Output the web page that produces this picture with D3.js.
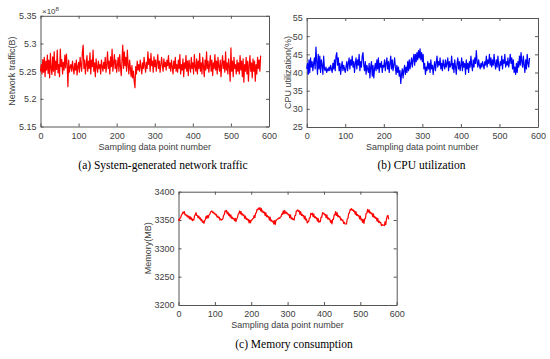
<!DOCTYPE html>
<html>
<head>
<meta charset="utf-8">
<script src="https://cdn.jsdelivr.net/npm/d3@7"></script>
<style>
  body { margin: 0; background: #fff; }
  svg text { font-family: "Liberation Sans", Arial, sans-serif; }
  .tick text { fill: #404040; font-size: 9px; }
  .tick line, .domain { stroke: #555; }
  .axis-label { fill: #404040; font-size: 9px; }
  .caption { font-family: "Liberation Serif", "Times New Roman", serif !important; font-size: 11.5px; fill: #000; }
</style>
</head>
<body>
<div id="chart"></div>
<script>
// sampled every 2nd data point (0, 2, ... 578)
var samples = d3.range(0, 580, 2);

var xTicks = [0, 100, 200, 300, 400, 500, 600];
var trafficTicks = [5.15, 5.2, 5.25, 5.3, 5.35];
var cpuTicks = [25, 30, 35, 40, 45, 50, 55];
var memTicks = [3200, 3250, 3300, 3350, 3400];

// network traffic, x10^8 B
var traffic = [
  5.250,5.262,5.245,5.271,5.248,5.275,5.240,5.268,5.252,5.279,
  5.246,5.270,5.238,5.282,5.255,5.244,5.276,5.250,5.285,5.242,
  5.268,5.253,5.288,5.247,5.262,5.240,5.290,5.258,5.271,5.245,
  5.266,5.252,5.279,5.256,5.281,5.262,5.222,5.270,5.248,5.258,
  5.262,5.250,5.268,5.255,5.245,5.264,5.252,5.270,5.243,5.258,
  5.266,5.248,5.275,5.260,5.250,5.285,5.297,5.255,5.270,5.245,
  5.262,5.278,5.250,5.268,5.255,5.283,5.245,5.270,5.258,5.288,
  5.250,5.265,5.240,5.272,5.258,5.248,5.268,5.255,5.262,5.245,
  5.270,5.258,5.250,5.266,5.255,5.275,5.248,5.262,5.285,5.255,
  5.268,5.245,5.276,5.258,5.290,5.250,5.265,5.280,5.255,5.270,
  5.248,5.262,5.275,5.250,5.280,5.258,5.242,5.270,5.297,5.255,
  5.285,5.260,5.275,5.250,5.288,5.262,5.245,5.270,5.255,5.240,
  5.260,5.238,5.250,5.232,5.220,5.258,5.245,5.268,5.252,5.262,
  5.250,5.270,5.258,5.245,5.265,5.255,5.275,5.260,5.248,5.266,
  5.255,5.285,5.262,5.272,5.250,5.282,5.260,5.268,5.248,5.276,
  5.258,5.270,5.250,5.265,5.280,5.255,5.268,5.248,5.262,5.275,
  5.260,5.250,5.272,5.258,5.266,5.252,5.270,5.260,5.278,5.255,
  5.265,5.250,5.270,5.258,5.245,5.268,5.255,5.275,5.250,5.262,
  5.248,5.270,5.255,5.280,5.245,5.262,5.252,5.272,5.240,5.265,
  5.255,5.278,5.250,5.268,5.242,5.270,5.258,5.248,5.275,5.255,
  5.265,5.245,5.280,5.258,5.250,5.272,5.245,5.268,5.255,5.282,
  5.250,5.265,5.245,5.275,5.258,5.240,5.270,5.252,5.285,5.255,
  5.268,5.248,5.262,5.278,5.250,5.270,5.242,5.265,5.255,5.280,
  5.252,5.268,5.245,5.275,5.258,5.250,5.270,5.240,5.262,5.278,
  5.255,5.268,5.248,5.285,5.252,5.265,5.245,5.272,5.258,5.232,
  5.292,5.250,5.268,5.240,5.275,5.255,5.262,5.245,5.270,5.250,
  5.265,5.245,5.278,5.252,5.268,5.240,5.272,5.230,5.262,5.250,
  5.275,5.245,5.268,5.232,5.260,5.278,5.250,5.265,5.238,5.272,
  5.250,5.268,5.232,5.262,5.245,5.275,5.255,5.270,5.250,5.278
];

// CPU utilization, %
var cpu = [
  41.0,42.5,39.5,43.5,40.0,44.0,41.5,43.0,40.5,42.5,
  44.0,41.0,47.0,43.0,39.5,45.0,41.0,44.5,40.0,43.5,
  42.0,39.5,44.5,41.0,40.5,41.5,40.0,41.0,40.5,41.5,
  40.5,42.0,41.0,40.0,42.5,41.0,43.5,40.5,44.5,45.5,
  42.0,44.0,40.5,42.5,39.5,41.5,43.0,40.5,42.0,41.0,
  40.0,41.5,43.0,40.5,42.5,44.0,41.0,43.5,42.0,44.5,
  41.5,43.0,40.0,42.5,44.0,41.0,43.5,42.0,45.0,40.5,
  43.0,41.5,44.5,45.5,42.0,40.5,43.0,39.5,42.0,41.0,
  40.0,42.5,38.5,41.5,43.0,39.0,42.0,38.5,41.0,42.5,
  40.5,43.5,41.0,44.0,40.0,42.5,41.5,43.0,40.0,42.0,
  41.5,43.5,40.5,42.5,44.0,41.0,43.0,40.0,42.5,44.5,
  41.0,43.5,40.5,42.0,44.0,41.5,39.5,42.0,40.0,41.5,
  39.0,40.5,37.0,39.5,41.0,38.5,40.5,42.0,39.5,41.5,
  40.0,43.0,40.5,43.5,41.0,42.5,44.0,41.5,43.5,45.0,
  42.0,45.0,43.0,45.5,43.5,46.0,44.0,46.5,43.5,45.5,
  43.0,45.0,41.0,42.5,39.5,41.5,40.5,43.0,41.0,42.5,
  40.0,43.5,41.0,42.0,39.5,41.5,43.0,40.5,42.5,44.5,
  41.5,43.0,42.0,44.0,41.0,42.5,40.5,43.5,42.0,41.0,
  43.5,41.5,42.5,44.0,40.5,43.0,41.5,42.0,44.5,41.0,
  42.5,40.0,43.5,41.5,39.5,42.5,44.0,41.0,43.0,40.5,
  42.0,44.0,40.5,43.0,41.5,42.5,39.5,43.5,41.0,42.5,
  40.0,43.0,41.5,44.5,42.0,40.5,43.5,41.5,44.0,42.5,
  46.0,43.0,41.5,43.5,42.0,41.0,42.5,41.5,43.0,42.0,
  41.0,43.0,42.0,44.5,41.5,43.5,42.5,45.0,42.0,44.0,
  41.5,43.5,42.0,45.0,42.5,41.0,43.5,41.5,44.5,42.0,
  40.5,43.0,42.0,44.5,41.0,43.5,42.5,45.0,41.5,43.0,
  42.0,44.0,41.5,43.0,45.0,42.5,44.0,41.0,43.5,40.0,
  41.5,39.5,42.5,40.0,43.0,41.5,44.5,42.0,45.5,43.0,
  41.5,44.5,42.0,40.0,43.5,41.0,45.0,42.5,41.5,44.0
];

// memory consumption, MB
var memory = [
  3352,3349,3353,3354,3359,3360,3364,3362,3365,3359,
  3360,3357,3358,3355,3357,3352,3356,3351,3354,3349,
  3351,3350,3357,3359,3363,3358,3358,3354,3357,3352,
  3354,3349,3351,3346,3348,3344,3349,3351,3357,3353,
  3358,3354,3359,3360,3364,3365,3366,3363,3364,3361,
  3362,3359,3360,3355,3357,3354,3355,3350,3352,3350,
  3351,3352,3358,3360,3366,3365,3367,3361,3364,3358,
  3361,3355,3359,3353,3355,3352,3353,3349,3353,3347,
  3352,3354,3360,3362,3366,3361,3365,3359,3361,3358,
  3359,3353,3357,3351,3353,3350,3351,3345,3350,3345,
  3350,3350,3352,3353,3358,3354,3362,3363,3369,3368,
  3371,3369,3372,3366,3370,3364,3366,3363,3364,3358,
  3363,3356,3358,3355,3356,3350,3355,3348,3350,3347,
  3348,3343,3349,3342,3350,3350,3352,3352,3354,3353,
  3355,3356,3361,3360,3366,3361,3367,3362,3364,3361,
  3362,3359,3360,3354,3359,3352,3354,3351,3352,3350,
  3358,3358,3366,3366,3368,3365,3366,3360,3365,3358,
  3360,3357,3358,3352,3357,3350,3352,3345,3347,3347,
  3354,3354,3362,3360,3362,3356,3361,3354,3356,3353,
  3354,3348,3353,3346,3348,3347,3355,3355,3363,3361,
  3362,3359,3360,3354,3359,3352,3354,3351,3352,3346,
  3349,3343,3351,3351,3359,3359,3365,3358,3363,3356,
  3358,3355,3356,3350,3352,3349,3350,3344,3346,3343,
  3343,3343,3352,3353,3362,3362,3369,3368,3370,3367,
  3368,3365,3366,3360,3365,3358,3360,3357,3358,3352,
  3357,3350,3352,3346,3351,3344,3352,3353,3362,3362,
  3369,3364,3368,3362,3364,3361,3362,3356,3361,3354,
  3356,3353,3354,3348,3353,3346,3348,3345,3346,3340,
  3342,3341,3341,3340,3347,3342,3352,3357,3358,3351
];

var svg = d3.select("#chart").append("svg")
  .attr("width", 550)
  .attr("height", 359);

function drawPanel(opt) {
  var x = d3.scaleLinear().domain([0, 600]).range([opt.left, opt.right]);
  var y = d3.scaleLinear().domain(opt.yDomain).range([opt.bottom, opt.top]);
  var g = svg.append("g");

  // bottom axis, ticks pointing inward
  g.append("g")
    .attr("transform", "translate(0," + opt.bottom + ")")
    .call(d3.axisBottom(x).tickValues(xTicks).tickSizeInner(-3).tickSizeOuter(0).tickPadding(6));
  // top axis (no labels)
  g.append("g")
    .attr("transform", "translate(0," + opt.top + ")")
    .call(d3.axisTop(x).tickValues(xTicks).tickSizeInner(-3).tickSizeOuter(0).tickFormat(""));
  // left axis
  g.append("g")
    .attr("transform", "translate(" + opt.left + ",0)")
    .call(d3.axisLeft(y).tickValues(opt.yTicks).tickSizeInner(-3).tickSizeOuter(0)
      .tickPadding(4).tickFormat(d3.format("~g")));
  // right axis (no labels)
  g.append("g")
    .attr("transform", "translate(" + opt.right + ",0)")
    .call(d3.axisRight(y).tickValues(opt.yTicks).tickSizeInner(-3).tickSizeOuter(0).tickFormat(""));

  g.selectAll(".tick text").style("font-family", "'Liberation Sans', Arial, sans-serif");

  var line = d3.line()
    .x(function (d, i) { return x(samples[i]); })
    .y(function (d) { return y(d); });

  g.append("path")
    .datum(opt.values)
    .attr("fill", "none")
    .attr("stroke", opt.color)
    .attr("stroke-width", 1.2)
    .attr("stroke-linejoin", "round")
    .attr("d", line);

  g.append("text")
    .attr("class", "axis-label")
    .attr("x", (opt.left + opt.right) / 2)
    .attr("y", opt.bottom + 23)
    .attr("text-anchor", "middle")
    .text("Sampling data point number");

  g.append("text")
    .attr("class", "axis-label")
    .attr("transform", "translate(" + opt.yLabelX + "," + (opt.top + opt.bottom) / 2 + ") rotate(-90)")
    .attr("text-anchor", "middle")
    .text(opt.yLabel);

  g.append("text")
    .attr("class", "caption")
    .attr("x", opt.captionX)
    .attr("y", opt.captionY)
    .attr("text-anchor", "middle")
    .text(opt.caption);

  return g;
}

var pa = drawPanel({
  left: 40.5, right: 269, top: 15.8, bottom: 126.5,
  yDomain: [5.15, 5.35], yTicks: trafficTicks,
  values: traffic, color: "#ff0000",
  yLabel: "Network traffic(B)", yLabelX: 15,
  caption: "(a) System-generated network traffic", captionX: 163, captionY: 169
});

// exponent label
var expo = pa.append("text")
  .attr("class", "axis-label")
  .attr("x", 42)
  .attr("y", 14)
  .style("font-size", "8px");
expo.append("tspan").text("\u00d710");
expo.append("tspan").attr("dy", -3).style("font-size", "6px").text("8");

drawPanel({
  left: 306.7, right: 538, top: 18, bottom: 127,
  yDomain: [25, 55], yTicks: cpuTicks,
  values: cpu, color: "#0000ff",
  yLabel: "CPU utilization(%)", yLabelX: 290.5,
  caption: "(b) CPU utilization", captionX: 421.5, captionY: 169
});

drawPanel({
  left: 178.5, right: 396.7, top: 191.7, bottom: 305,
  yDomain: [3200, 3400], yTicks: memTicks,
  values: memory, color: "#ff0000",
  yLabel: "Memory(MB)", yLabelX: 151,
  caption: "(c) Memory consumption", captionX: 294, captionY: 348
});
</script>
</body>
</html>
